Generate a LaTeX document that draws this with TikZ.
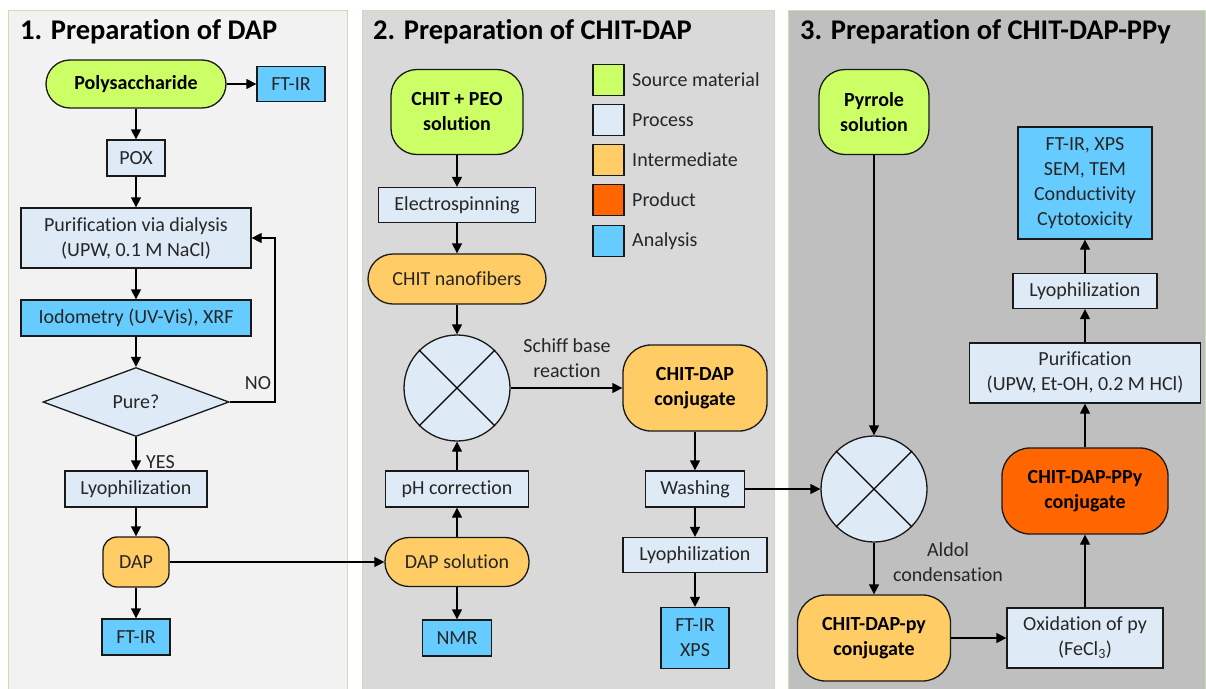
\documentclass[tikz,border=0pt]{standalone}
\usepackage{fontspec}
\setmainfont{Carlito}[Ligatures=NoCommon]
\usetikzlibrary{shapes.geometric,arrows.meta}
\definecolor{srcC}{HTML}{CCFF66}
\definecolor{procC}{HTML}{DEEBF7}
\definecolor{intC}{HTML}{FFCC66}
\definecolor{prodC}{HTML}{FF6600}
\definecolor{anaC}{HTML}{66CCFF}
\definecolor{panA}{HTML}{F2F2F2}
\definecolor{panB}{HTML}{D9D9D9}
\definecolor{panC}{HTML}{BFBFBF}
\definecolor{panEdge}{HTML}{C5E0B4}
\definecolor{txt}{HTML}{262626}
\begin{document}
\begin{tikzpicture}[x=1pt,y=-1pt,
  box/.style={draw=black!90, line width=1.3pt, align=center, inner sep=0pt, font=\fontsize{20}{25}\selectfont, text=txt},
  proc/.style={box, fill=procC},
  ana/.style={box, fill=anaC},
  srcbox/.style={box, fill=srcC, font=\fontsize{20}{25}\selectfont\bfseries, text=black},
  intbox/.style={box, fill=intC},
  intbold/.style={box, fill=intC, font=\fontsize{20}{25}\selectfont\bfseries, text=black},
  prodbox/.style={box, fill=prodC, font=\fontsize{20}{25}\selectfont\bfseries, text=black},
  mixer/.style={box, circle, fill=procC, minimum size=106pt},
  arr/.style={-{Triangle[length=10pt,width=10pt]}, line width=1.3pt, draw=black},
  lbl/.style={font=\fontsize{20}{25}\selectfont, text=txt, align=center, inner sep=0pt},
  ptitle/.style={font=\fontsize{28.5}{30}\selectfont\bfseries, anchor=base west, inner sep=0pt},
  panel/.style={draw=panEdge, line width=1pt},
  legsq/.style={draw=black!90, line width=1.3pt, minimum size=31pt, inner sep=0pt},
  legtx/.style={font=\fontsize{20}{25}\selectfont, text=txt, anchor=west, inner sep=0pt}
]
\useasboundingbox (0,0) rectangle (1206,688);
% panels
\fill[white] (0,0) rectangle (1206,688);
\draw[panel, fill=panA] (8,10.5) rectangle (347,690);
\draw[panel, fill=panB] (362,10.5) rectangle (774,690);
\draw[panel, fill=panC] (788,10.5) rectangle (1205,690);
\node[ptitle] (t1) at (20,39) {1. Preparation of DAP};
\node[ptitle] (t2) at (373,39) {2. Preparation of CHIT-DAP};
\node[ptitle] (t3) at (800,39) {3. Preparation of CHIT-DAP-PPy};

% panel 1
\node[srcbox, rounded corners=24pt, minimum width=180pt, minimum height=48pt] (poly) at (136,84) {Polysaccharide};
\node[ana, minimum width=68pt, minimum height=35pt] (ftirA) at (291,84) {FT-IR};
\node[proc, minimum width=58pt, minimum height=36pt] (pox) at (136,158) {POX};
\node[proc, minimum width=230pt, minimum height=60pt] (puri) at (136,238) {Purification via dialysis\\(UPW, 0.1 M NaCl)};
\node[ana, minimum width=230pt, minimum height=36pt] (iodo) at (136,318) {Iodometry (UV-Vis), XRF};
\node[proc, diamond, minimum width=186pt, minimum height=69pt] (pure) at (136,402) {Pure?};
\node[proc, minimum width=142pt, minimum height=36pt] (lyoA) at (136,489) {Lyophilization};
\node[intbox, rounded corners=14pt, minimum width=66pt, minimum height=50pt] (dap) at (136,562) {DAP};
\node[ana, minimum width=68pt, minimum height=36pt] (ftirB) at (136,637) {FT-IR};
\coordinate (noc) at (275,320);
\node[lbl] (nolbl) at (258,383) {NO};
\node[lbl, anchor=west] (yeslbl) at (146,462) {YES};

\draw[arr] (poly) -- (ftirA);
\draw[arr] (poly) -- (pox);
\draw[arr] (pox) -- (puri);
\draw[arr] (puri) -- (iodo);
\draw[arr] (iodo) -- (pure);
\draw[arr] (pure.east) -| (noc) |- (puri.east);
\draw[arr] (pure) -- (lyoA);
\draw[arr] (lyoA) -- (dap);
\draw[arr] (dap) -- (ftirB);

% panel 2
\node[srcbox, rounded corners=26pt, minimum width=132pt, minimum height=85pt] (chitpeo) at (457,112) {CHIT + PEO\\solution};
\node[proc, minimum width=157pt, minimum height=35pt] (elec) at (457,205) {Electrospinning};
\node[intbox, rounded corners=25pt, minimum width=178pt, minimum height=50pt] (nano) at (457,279) {CHIT nanofibers};
\node[mixer] (mixA) at (457,388) {};
\node[intbold, rounded corners=28pt, minimum width=144pt, minimum height=86pt] (chitdap) at (695,388) {CHIT-DAP\\conjugate};
\node[proc, minimum width=99pt, minimum height=36pt] (wash) at (695,489) {Washing};
\node[proc, minimum width=144pt, minimum height=35pt] (lyoB) at (695,555) {Lyophilization};
\node[ana, minimum width=68pt, minimum height=61pt] (ftirxps) at (695,638) {FT-IR\\XPS};
\node[proc, minimum width=143pt, minimum height=36pt] (ph) at (457,489) {pH correction};
\node[intbox, rounded corners=24pt, minimum width=144pt, minimum height=49pt] (dapsol) at (457,562) {DAP solution};
\node[ana, minimum width=69pt, minimum height=36pt] (nmr) at (457,638) {NMR};
\node[lbl] (schiff) at (567,358) {Schiff base\\reaction};

% legend
\node[legsq, fill=srcC] (lg1) at (608.5,80) {};
\node[legsq, fill=procC] (lg2) at (608.5,120) {};
\node[legsq, fill=intC] (lg3) at (608.5,160) {};
\node[legsq, fill=prodC] (lg4) at (608.5,200) {};
\node[legsq, fill=anaC] (lg5) at (608.5,241) {};
\node[legtx] (lt1) at (632,80) {Source material};
\node[legtx] (lt2) at (632,120) {Process};
\node[legtx] (lt3) at (632,160) {Intermediate};
\node[legtx] (lt4) at (632,200) {Product};
\node[legtx] (lt5) at (632,241) {Analysis};

\draw[line width=1.3pt] (mixA.45) -- (mixA.225) (mixA.135) -- (mixA.315);
\draw[arr] (dap) -- (dapsol);
\draw[arr] (chitpeo) -- (elec);
\draw[arr] (elec) -- (nano);
\draw[arr] (nano) -- (mixA);
\draw[arr] (dapsol) -- (ph);
\draw[arr] (ph) -- (mixA);
\draw[arr] (dapsol) -- (nmr);
\draw[arr] (mixA) -- (chitdap);
\draw[arr] (chitdap) -- (wash);
\draw[arr] (wash) -- (lyoB);
\draw[arr] (lyoB) -- (ftirxps);

% panel 3
\node[srcbox, rounded corners=26pt, minimum width=110pt, minimum height=85pt] (pyr) at (874,112) {Pyrrole\\solution};
\node[mixer] (mixB) at (874,489) {};
\node[intbold, rounded corners=28pt, minimum width=153pt, minimum height=86pt] (py) at (874,638) {CHIT-DAP-py\\conjugate};
\node[proc, minimum width=156pt, minimum height=60pt] (oxid) at (1085,638) {Oxidation of py\\(FeCl\textsubscript{3})};
\node[prodbox, rounded corners=28pt, minimum width=166pt, minimum height=86pt] (ppy) at (1085,491) {CHIT-DAP-PPy\\conjugate};
\node[proc, minimum width=231pt, minimum height=60pt] (puriC) at (1085,373) {Purification\\(UPW, Et-OH, 0.2 M HCl)};
\node[proc, minimum width=144pt, minimum height=35pt] (lyoC) at (1085,291) {Lyophilization};
\node[ana, minimum width=134pt, minimum height=112pt] (anal) at (1085,183) {FT-IR, XPS\\SEM, TEM\\Conductivity\\Cytotoxicity};
\node[lbl] (aldol) at (948,562) {Aldol\\condensation};

\draw[line width=1.3pt] (mixB.45) -- (mixB.225) (mixB.135) -- (mixB.315);
\draw[arr] (wash) -- (mixB);
\draw[arr] (pyr) -- (mixB);
\draw[arr] (mixB) -- (py);
\draw[arr] (py) -- (oxid);
\draw[arr] (oxid) -- (ppy);
\draw[arr] (ppy) -- (puriC);
\draw[arr] (puriC) -- (lyoC);
\draw[arr] (lyoC) -- (anal);
\end{tikzpicture}
\end{document}
